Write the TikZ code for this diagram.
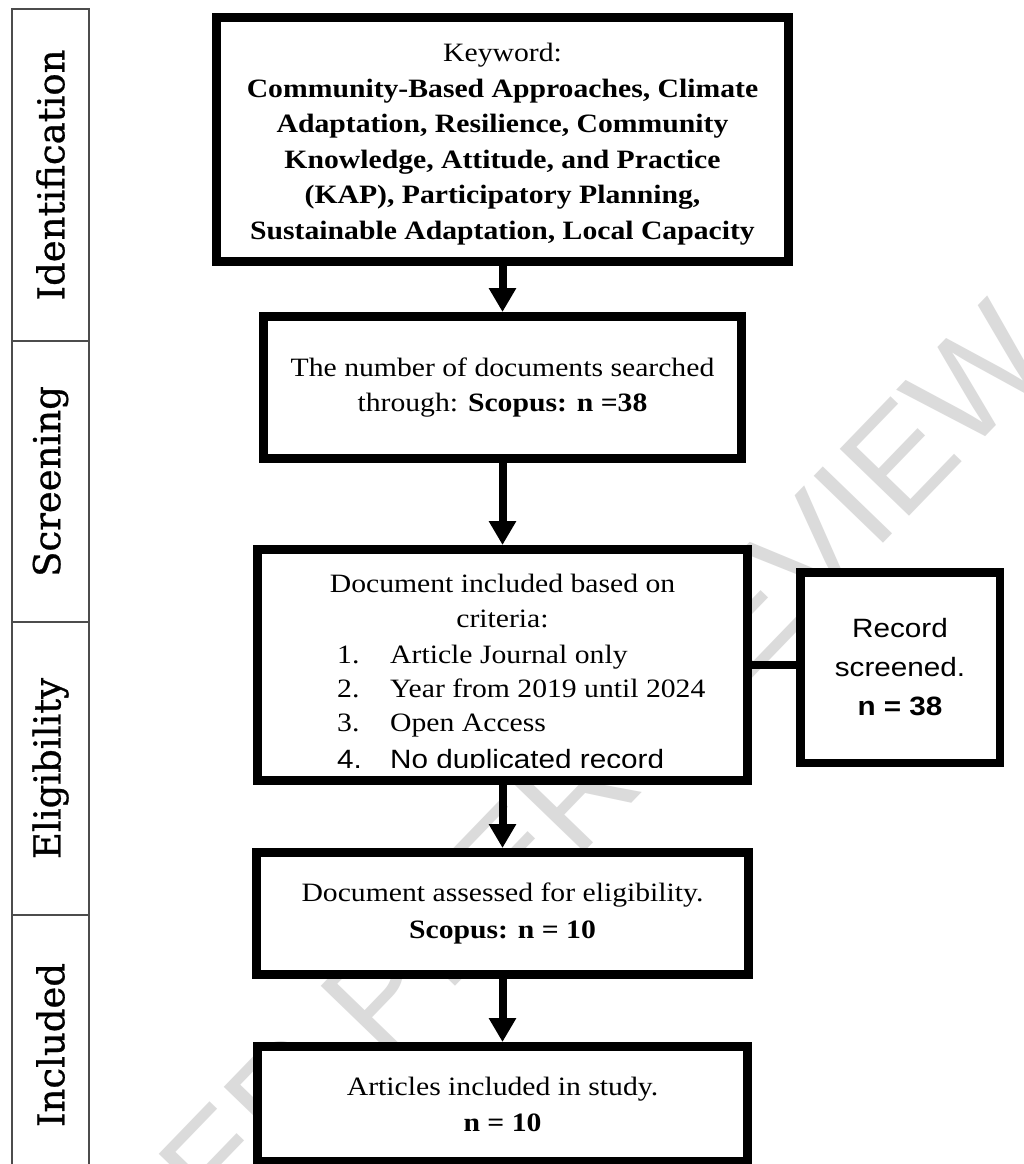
\documentclass[tikz,border=0pt]{standalone}
\usepackage{fontspec}
\setmainfont{Liberation Serif}[FakeStretch=1.12]
\newfontfamily\sansf{Liberation Sans}[FakeStretch=1.12]
\newfontfamily\wmf{Liberation Sans}
\newfontfamily\labf{DejaVu Serif}[FakeBold=0.8]
\usetikzlibrary{arrows.meta,calc}
\begin{document}
\begin{tikzpicture}[x=1pt,y=-1pt,
  box/.style={draw=black,line width=9pt,fill=white,inner sep=0pt,align=center,
    font=\fontsize{26.5}{35.5}\selectfont},
  txt/.style={inner sep=0pt,font=\fontsize{26.5}{35.5}\selectfont},
  stxt/.style={inner sep=0pt,font=\sansf\fontsize{26.5}{35.5}\selectfont},
  arr/.style={line width=8pt,-{Triangle[width=26pt,length=24pt]}},
  link/.style={line width=8pt},
  phase/.style={draw=black!70,line width=2.5pt,fill=white,minimum width=77pt,inner sep=0pt,
    font=\labf\fontsize{37}{37}\selectfont},
  wmark/.style={inner sep=0pt,text=black!14,font=\wmf\fontsize{140}{140}\selectfont}
]
\useasboundingbox[fill=white] (0,0) rectangle (1024,1164);

% watermark
\node[wmark,rotate=46,anchor=base east] (wm) at (1058,362) {UNDER PEER REVIEW};

% phase column
\node[phase,minimum height=332pt] (pid) at (50.5,175) {\rotatebox{90}{Identification}};
\node[phase,minimum height=281pt] (pscr) at (50.5,481.5) {\rotatebox{90}{Screening}};
\node[phase,minimum height=293pt] (pel) at (50.5,768.5) {\rotatebox{90}{Eligibility}};
\node[phase,minimum height=260pt] (pinc) at (50.5,1045) {\rotatebox{90}{Included}};

% main boxes
\node[box,minimum width=572pt,minimum height=244pt] (b1) at (502.5,139.5)
  {\rule{0pt}{28pt}Keyword:\\ \textbf{Community-Based Approaches, Climate}\\
   \textbf{Adaptation, Resilience, Community}\\
   \textbf{Knowledge, Attitude, and Practice}\\
   \textbf{(KAP), Participatory Planning,}\\
   \textbf{Sustainable Adaptation, Local Capacity}};

\node[box,minimum width=478pt,minimum height=142pt] (b2) at (502.5,387.5)
  {The number of documents searched\\ through: \textbf{Scopus: n =38}};

\node[box,minimum width=490pt,minimum height=231pt] (b3) at (502.5,665) {};
\node[txt,anchor=base] (b3h1) at (502.5,592) {Document included based on};
\node[txt,anchor=base] (b3h2) at (502.5,627) {criteria:};
\node[txt,anchor=base west] (n1) at (337,663) {1.};
\node[txt,anchor=base west] (i1) at (390,663) {Article Journal only};
\node[txt,anchor=base west] (n2) at (337,697) {2.};
\node[txt,anchor=base west] (i2) at (390,697) {Year from 2019 until 2024};
\node[txt,anchor=base west] (n3) at (337,731) {3.};
\node[txt,anchor=base west] (i3) at (390,731) {Open Access};
\begin{scope}
  \clip (262,700) rectangle (743,767);
  \node[stxt,anchor=base west] (n4) at (337,768) {4.};
  \node[stxt,anchor=base west] (i4) at (390,768) {No duplicated record};
\end{scope}

\node[box,line width=8.5pt,minimum width=199.5pt,minimum height=190.5pt,
  font=\sansf\fontsize{26.5}{39}\selectfont] (side) at (900,667.5)
  {Record\\ screened.\\ \textbf{n = 38}};

\node[box,minimum width=492pt,minimum height=122pt,
  font=\fontsize{26.5}{37}\selectfont] (b4) at (502.5,913.5)
  {Document assessed for eligibility.\\ \textbf{Scopus: n = 10}};

\node[box,minimum width=490pt,minimum height=115pt,
  font=\fontsize{26.5}{36}\selectfont] (b5) at (502.5,1104)
  {Articles included in study.\\ \textbf{n = 10}};

% connectors
\draw[arr] (b1.south) -- (b1.south |- b2.north);
\draw[arr] (b2.south) -- (b2.south |- b3.north);
\draw[arr] (b3.south) -- (b3.south |- b4.north);
\draw[arr] (b4.south) -- (b4.south |- b5.north);
\draw[link] (b3.east) -- (b3.east -| side.west);
\end{tikzpicture}
\end{document}
